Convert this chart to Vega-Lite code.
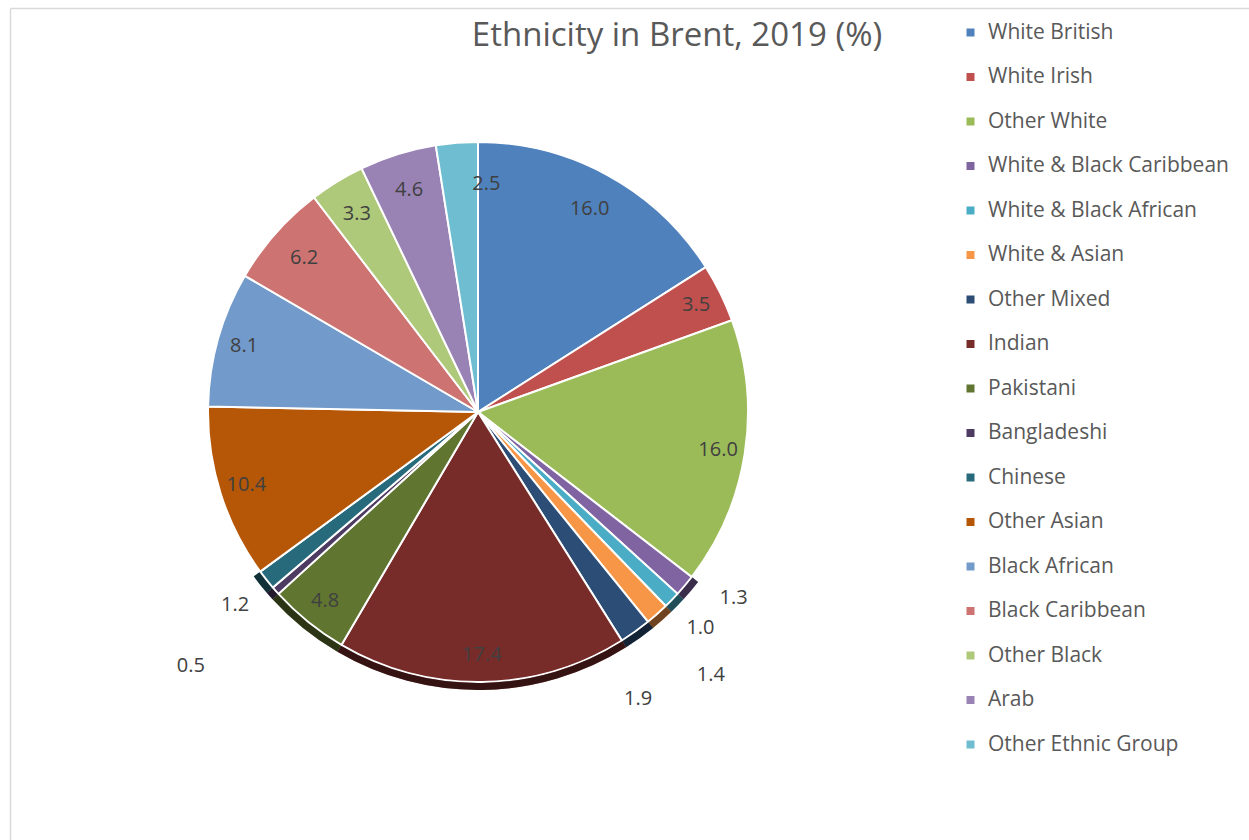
{
  "$schema": "https://vega.github.io/schema/vega-lite/v6.json",
  "width": 936,
  "height": 808,
  "autosize": {"type": "none"},
  "padding": {"left": 10, "top": 8, "right": 303, "bottom": 24},
  "background": "white",
  "config": {
    "view": {"stroke": null},
    "font": "Open Sans",
    "text": {"font": "Open Sans"}
  },
  "title": {
    "text": "Ethnicity in Brent, 2019 (%)",
    "font": "Open Sans",
    "fontSize": 33,
    "fontWeight": "normal",
    "color": "#595959",
    "anchor": "middle",
    "baseline": "alphabetic",
    "offset": 0,
    "dx": 199,
    "dy": 71
  },
  "data": {
    "values": [
      {"idx": 1, "group": "White British", "pct": 16.0},
      {"idx": 2, "group": "White Irish", "pct": 3.5},
      {"idx": 3, "group": "Other White", "pct": 16.0},
      {"idx": 4, "group": "White & Black Caribbean", "pct": 1.3},
      {"idx": 5, "group": "White & Black African", "pct": 1.0},
      {"idx": 6, "group": "White & Asian", "pct": 1.4},
      {"idx": 7, "group": "Other Mixed", "pct": 1.9},
      {"idx": 8, "group": "Indian", "pct": 17.4},
      {"idx": 9, "group": "Pakistani", "pct": 4.8},
      {"idx": 10, "group": "Bangladeshi", "pct": 0.5},
      {"idx": 11, "group": "Chinese", "pct": 1.2},
      {"idx": 12, "group": "Other Asian", "pct": 10.4},
      {"idx": 13, "group": "Black African", "pct": 8.1},
      {"idx": 14, "group": "Black Caribbean", "pct": 6.2},
      {"idx": 15, "group": "Other Black", "pct": 3.3},
      {"idx": 16, "group": "Arab", "pct": 4.6},
      {"idx": 17, "group": "Other Ethnic Group", "pct": 2.5}
    ]
  },
  "layer": [
    {
      "mark": {"type": "point", "opacity": 0},
      "encoding": {
        "x": {"field": "pct", "type": "quantitative", "scale": {"range": [0, 1239], "domain": [0, 20]},
          "axis": {"orient": "top", "domainColor": "#D9D9D9", "domainWidth": 1.5, "ticks": false, "labels": false, "grid": false, "title": null}},
        "y": {"field": "pct", "type": "quantitative", "scale": {"range": [832, 0], "domain": [0, 20]},
          "axis": {"orient": "left", "domainColor": "#D9D9D9", "domainWidth": 1.5, "ticks": false, "labels": false, "grid": false, "title": null}}
      }
    },
    {
      "mark": {"type": "arc", "outerRadius": 270, "stroke": "white", "strokeWidth": 2},
      "encoding": {
        "theta": {"field": "pct", "type": "quantitative", "stack": true},
        "order": {"field": "idx", "type": "quantitative"},
        "color": {
          "field": "group", "type": "nominal",
          "scale": {
            "domain": ["White British", "White Irish", "Other White", "White & Black Caribbean", "White & Black African", "White & Asian", "Other Mixed", "Indian", "Pakistani", "Bangladeshi", "Chinese", "Other Asian", "Black African", "Black Caribbean", "Other Black", "Arab", "Other Ethnic Group"],
            "range": ["#4F81BD", "#C0504D", "#9BBB59", "#8064A2", "#4BACC6", "#F79646", "#2C4D75", "#772C2A", "#5F7530", "#4D3B62", "#276A7C", "#B65708", "#729ACA", "#CD7371", "#AFC97A", "#9983B5", "#6FBDD1"]
          },
          "legend": {
            "orient": "none",
            "legendX": 950,
            "legendY": 14,
            "title": null,
            "symbolType": "square",
            "symbolSize": 64,
            "symbolStrokeWidth": 0,
            "labelFont": "Open Sans",
            "labelFontSize": 21,
            "labelColor": "#595959",
            "labelOffset": 7,
            "rowPadding": 22.5,
            "padding": 0,
            "labelLimit": 300
          }
        }
      }
    },
    {
      "mark": {"type": "arc", "outerRadius": 278, "radius2": 271, "strokeWidth": 0},
      "encoding": {
        "theta": {"field": "pct", "type": "quantitative", "stack": true},
        "order": {"field": "idx", "type": "quantitative"},
        "color": {"field": "group", "type": "nominal"},
        "opacity": {"condition": {"test": "datum.idx >= 4 && datum.idx <= 11", "value": 1}, "value": 0}
      }
    },
    {
      "mark": {"type": "arc", "outerRadius": 278, "radius2": 271, "strokeWidth": 0, "fill": "black"},
      "encoding": {
        "theta": {"field": "pct", "type": "quantitative", "stack": true},
        "order": {"field": "idx", "type": "quantitative"},
        "opacity": {"condition": {"test": "datum.idx >= 4 && datum.idx <= 11", "value": 0.55}, "value": 0}
      }
    },
    {
      "mark": {"type": "text", "radius": 232, "fontSize": 20, "color": "#404040"},
      "encoding": {
        "theta": {"field": "pct", "type": "quantitative", "stack": true},
        "order": {"field": "idx", "type": "quantitative"},
        "text": {"condition": {"test": "indexof(['White British','Black Caribbean','Other Black','Arab'], datum.group) >= 0", "field": "pct", "type": "quantitative", "format": ".1f"}, "value": ""}
      }
    },
    {
      "mark": {"type": "text", "radius": 243, "fontSize": 20, "color": "#404040"},
      "encoding": {
        "theta": {"field": "pct", "type": "quantitative", "stack": true},
        "order": {"field": "idx", "type": "quantitative"},
        "text": {"condition": {"test": "indexof(['White Irish','Other White','Indian','Other Asian','Black African','Pakistani'], datum.group) >= 0", "field": "pct", "type": "quantitative", "format": ".1f"}, "value": ""}
      }
    },
    {
      "mark": {"type": "text", "radius": 228, "thetaOffset": 0.115, "fontSize": 20, "color": "#404040"},
      "encoding": {
        "theta": {"field": "pct", "type": "quantitative", "stack": true},
        "order": {"field": "idx", "type": "quantitative"},
        "text": {"condition": {"test": "datum.group === 'Other Ethnic Group'", "field": "pct", "type": "quantitative", "format": ".1f"}, "value": ""}
      }
    },
    {
      "mark": {"type": "text", "radius": 310, "fontSize": 20, "color": "#404040"},
      "encoding": {
        "theta": {"field": "pct", "type": "quantitative", "stack": true},
        "order": {"field": "idx", "type": "quantitative"},
        "text": {"condition": {"test": "datum.group === 'White & Black African' || datum.group === 'Chinese'", "field": "pct", "type": "quantitative", "format": ".1f"}, "value": ""}
      }
    },
    {
      "mark": {"type": "text", "radius": 316, "thetaOffset": -0.07, "fontSize": 20, "color": "#404040"},
      "encoding": {
        "theta": {"field": "pct", "type": "quantitative", "stack": true},
        "order": {"field": "idx", "type": "quantitative"},
        "text": {"condition": {"test": "datum.group === 'White & Black Caribbean'", "field": "pct", "type": "quantitative", "format": ".1f"}, "value": ""}
      }
    },
    {
      "mark": {"type": "text", "radius": 351, "fontSize": 20, "color": "#404040"},
      "encoding": {
        "theta": {"field": "pct", "type": "quantitative", "stack": true},
        "order": {"field": "idx", "type": "quantitative"},
        "text": {"condition": {"test": "datum.group === 'White & Asian'", "field": "pct", "type": "quantitative", "format": ".1f"}, "value": ""}
      }
    },
    {
      "mark": {"type": "text", "radius": 329, "thetaOffset": 0.113, "fontSize": 20, "color": "#404040"},
      "encoding": {
        "theta": {"field": "pct", "type": "quantitative", "stack": true},
        "order": {"field": "idx", "type": "quantitative"},
        "text": {"condition": {"test": "datum.group === 'Other Mixed'", "field": "pct", "type": "quantitative", "format": ".1f"}, "value": ""}
      }
    },
    {
      "mark": {"type": "text", "radius": 383, "fontSize": 20, "color": "#404040"},
      "encoding": {
        "theta": {"field": "pct", "type": "quantitative", "stack": true},
        "order": {"field": "idx", "type": "quantitative"},
        "text": {"condition": {"test": "datum.group === 'Bangladeshi'", "field": "pct", "type": "quantitative", "format": ".1f"}, "value": ""}
      }
    }
  ]
}
